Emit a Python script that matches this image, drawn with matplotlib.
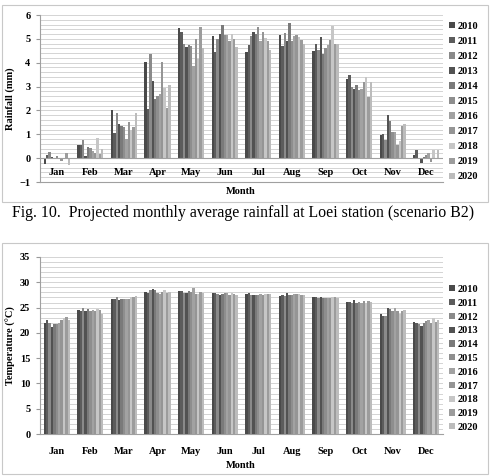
import matplotlib

matplotlib.use("Agg")
import matplotlib.pyplot as plt
import numpy as np
from matplotlib.patches import Rectangle

months = ["Jan", "Feb", "Mar", "Apr", "May", "Jun",
          "Jul", "Aug", "Sep", "Oct", "Nov", "Dec"]
years = [str(y) for y in range(2010, 2021)]

# rainfall (mm), one row per month, one column per year 2010..2020
rain_jan = [-0.25, 0.15, 0.25, 0.05, 0.02, 0.07, -0.05, -0.1, 0.0, 0.2, -0.3]
rain_feb = [0.55, 0.55, 0.75, 0.08, 0.45, 0.42, 0.3, 0.22, 0.85, 0.18, 0.4]
rain_mar = [2.0, 1.05, 1.9, 1.45, 1.35, 1.3, 0.8, 1.5, 1.2, 1.3, 1.9]
rain_apr = [4.05, 2.05, 4.35, 3.25, 2.5, 2.6, 2.7, 4.05, 2.95, 2.1, 3.05]
rain_may = [5.45, 5.3, 4.8, 4.65, 4.75, 4.7, 3.85, 5.0, 4.15, 5.5, 4.6]
rain_jun = [5.1, 4.45, 5.0, 5.2, 5.6, 5.15, 5.15, 4.9, 5.2, 5.0, 4.65]
rain_jul = [4.45, 4.75, 5.1, 5.3, 5.2, 5.5, 4.9, 5.3, 5.05, 4.9, 4.55]
rain_aug = [5.15, 4.7, 5.25, 4.9, 5.65, 4.9, 5.1, 5.15, 5.07, 4.97, 4.8]
rain_sep = [4.5, 4.8, 4.55, 5.07, 4.35, 4.62, 4.76, 4.97, 5.55, 4.8, 4.8]
rain_oct = [3.3, 3.5, 3.0, 2.9, 3.05, 2.85, 2.9, 3.2, 3.4, 2.55, 3.2]
rain_nov = [0.95, 1.0, 0.75, 1.8, 1.55, 1.1, 1.1, 0.55, 0.7, 1.35, 1.45]
rain_dec = [0.15, 0.35, -0.05, -0.2, 0.05, 0.15, 0.2, -0.15, 0.35, 0.0, 0.35]

# temperature (C)
temp_jan = [22.0, 22.6, 22.0, 21.1, 21.8, 21.8, 21.9, 22.5, 23.0, 23.1, 22.6]
temp_feb = [24.6, 24.4, 25.0, 24.4, 24.7, 24.4, 24.6, 24.3, 24.8, 24.5, 23.8]
temp_mar = [26.6, 26.6, 27.0, 26.4, 26.6, 26.6, 26.6, 26.6, 27.0, 27.1, 27.3]
temp_apr = [28.0, 27.9, 28.5, 28.6, 28.4, 27.8, 27.6, 28.0, 28.4, 27.8, 28.0]
temp_may = [28.2, 28.2, 27.9, 27.9, 28.3, 28.0, 28.8, 27.6, 27.7, 28.0, 27.9]
temp_jun = [27.8, 27.8, 27.6, 27.5, 27.7, 27.9, 27.8, 27.5, 27.8, 27.7, 27.4]
temp_jul = [27.7, 27.8, 27.4, 27.5, 27.5, 27.5, 27.6, 27.4, 27.6, 27.6, 27.6]
temp_aug = [27.2, 27.5, 27.2, 27.8, 27.4, 27.5, 27.6, 27.7, 27.6, 27.5, 27.5]
temp_sep = [27.0, 27.0, 26.8, 27.0, 26.8, 26.8, 26.9, 26.8, 27.0, 27.0, 26.9]
temp_oct = [26.1, 26.2, 26.0, 26.4, 26.0, 26.2, 26.0, 26.3, 25.9, 26.3, 26.2]
temp_nov = [23.7, 23.4, 23.4, 24.9, 24.7, 24.4, 24.9, 24.3, 23.8, 24.4, 24.5]
temp_dec = [22.1, 22.0, 21.8, 21.4, 21.9, 22.3, 22.5, 21.9, 22.9, 22.2, 22.5]

rain = np.array([rain_jan, rain_feb, rain_mar, rain_apr, rain_may, rain_jun,
                 rain_jul, rain_aug, rain_sep, rain_oct, rain_nov, rain_dec])
temp = np.array([temp_jan, temp_feb, temp_mar, temp_apr, temp_may, temp_jun,
                 temp_jul, temp_aug, temp_sep, temp_oct, temp_nov, temp_dec])

grays = ["#4a4a4a", "#5c5c5c", "#8a8a8a", "#525252", "#7a7a7a", "#8e8e8e",
         "#a2a2a2", "#959595", "#c6c6c6", "#9c9c9c", "#bcbcbc"]

SERIF = "Liberation Serif"
W, H = 491, 476
fig = plt.figure(figsize=(W / 100, H / 100), dpi=100)
fig.patch.set_facecolor("white")


def ax_rect(x0, y0, x1, y1):
    return [x0 / W, 1 - y1 / H, (x1 - x0) / W, (y1 - y0) / H]


def draw_bars(ax, data):
    n = len(years)
    group = 0.78
    bw = group / n
    x = np.arange(len(months))
    for i, yr in enumerate(years):
        ax.bar(x - group / 2 + bw * (i + 0.5), data[:, i], width=bw,
               color=grays[i], edgecolor="none", label=yr, zorder=3)
    ax.set_xlim(-0.5, len(months) - 0.5)


def style(ax, ymin, ymax, major, minor):
    ax.set_ylim(ymin, ymax)
    ax.set_yticks(np.arange(ymin, ymax + 0.001, major))
    ax.set_yticks(np.arange(ymin, ymax + 0.001, minor), minor=True)
    ax.grid(axis="y", which="both", color="#d4d4d4", lw=0.7, zorder=0)
    ax.tick_params(axis="y", which="minor", length=0)
    ax.tick_params(axis="y", which="major", length=3, color="#999999", pad=4)
    for s in ["top", "right"]:
        ax.spines[s].set_visible(False)
    ax.spines["left"].set_color("#a0a0a0")
    ax.spines["bottom"].set_color("#a0a0a0")
    for lab in ax.get_yticklabels():
        lab.set_fontfamily(SERIF)
        lab.set_fontweight("bold")
        lab.set_fontsize(7.5)


def add_legend(ax, y_top, spacing):
    ax.legend(loc="upper left", bbox_to_anchor=(449 / W, 1 - y_top / H),
              bbox_transform=fig.transFigure, frameon=False,
              prop={"family": SERIF, "weight": "bold", "size": 7.5},
              handlelength=0.55, handleheight=0.55, handletextpad=0.3,
              labelspacing=spacing, borderaxespad=0, borderpad=0)


# panel borders
fig.add_artist(Rectangle((2 / W, 1 - 202 / H), 486 / W, 197 / H,
                         transform=fig.transFigure, fill=False,
                         edgecolor="#c8c8c8", lw=0.8))
fig.add_artist(Rectangle((2 / W, 1 - 474 / H), 486 / W, 231 / H,
                         transform=fig.transFigure, fill=False,
                         edgecolor="#c8c8c8", lw=0.8))

# ---- rainfall ----
ax1 = fig.add_axes(ax_rect(40, 15, 443, 182))
draw_bars(ax1, rain)
style(ax1, -1, 6, 1, 0.2)
ax1.set_xticks([])
ax1.axhline(0, color="#a0a0a0", lw=0.8, zorder=4)
for i, m in enumerate(months):
    ax1.text(i, -0.62, m, ha="center", va="center", family=SERIF,
             weight="bold", fontsize=7.5)
ax1.set_ylabel("Rainfall (mm)", family=SERIF, weight="bold", fontsize=7.5,
               labelpad=3)
fig.text(241 / W, 1 - 191 / H, "Month", ha="center", va="center",
         family=SERIF, weight="bold", fontsize=7.5)
add_legend(ax1, 22, 0.58)

fig.text(243 / W, 1 - 213 / H,
         "Fig. 10.  Projected monthly average rainfall at Loei station (scenario B2)",
         ha="center", va="center", family=SERIF, fontsize=11.4)

# ---- temperature ----
ax2 = fig.add_axes(ax_rect(40, 257, 443, 434))
draw_bars(ax2, temp)
style(ax2, 0, 35, 5, 1)
ax2.set_xticks(range(len(months)))
ax2.set_xticklabels(months, family=SERIF, weight="bold", fontsize=7.5)
ax2.tick_params(axis="x", length=0, pad=9)
ax2.set_ylabel("Temperature (°C)", family=SERIF, weight="bold", fontsize=7.5,
               labelpad=3)
fig.text(241 / W, 1 - 466 / H, "Month", ha="center", va="center",
         family=SERIF, weight="bold", fontsize=7.5)
add_legend(ax2, 285, 0.46)

fig.savefig("out.png", dpi=100)
